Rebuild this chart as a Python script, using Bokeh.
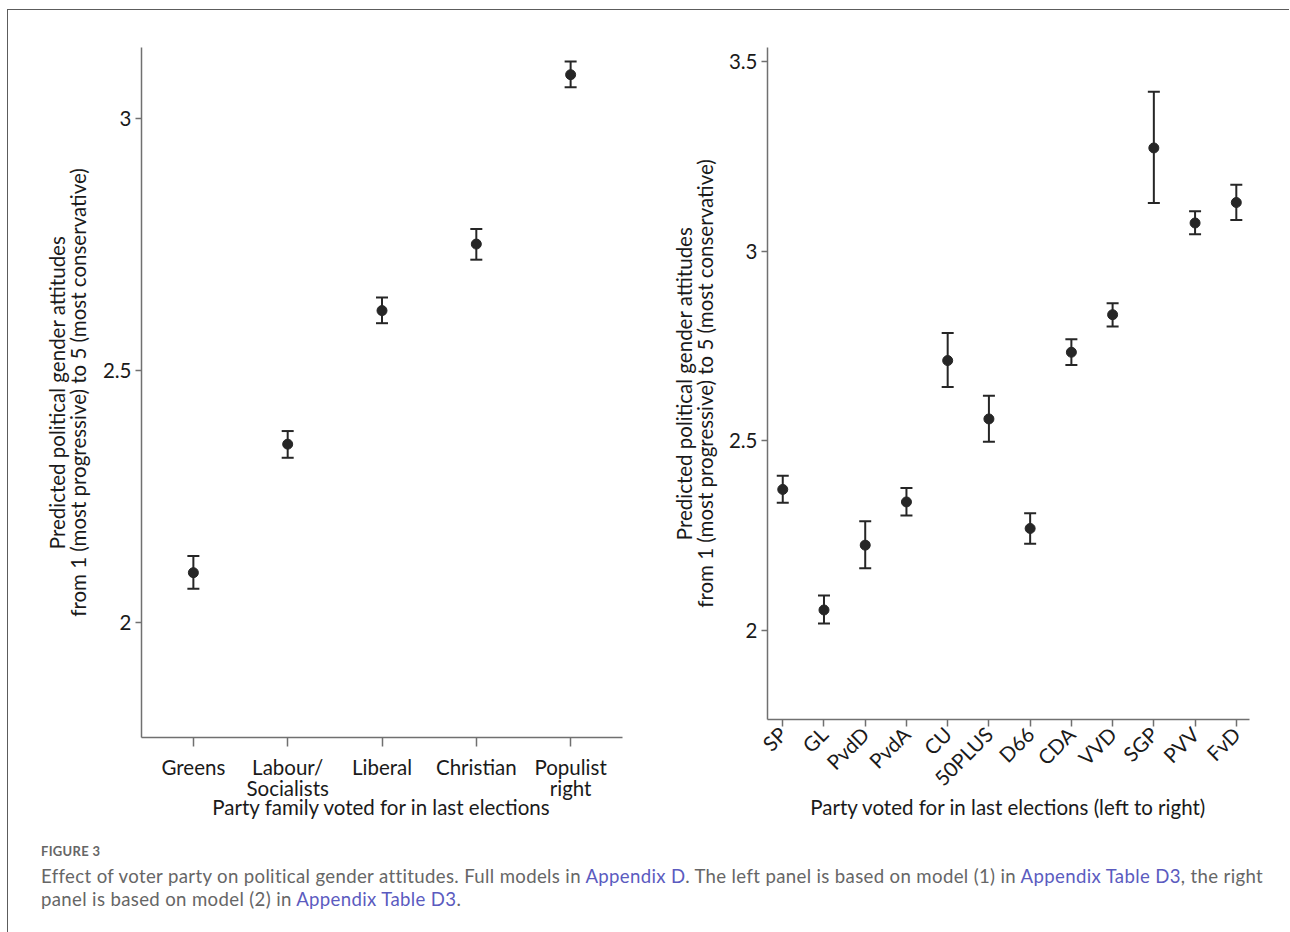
import math

from bokeh.embed import file_html
from bokeh.layouts import column, row
from bokeh.models import ColumnDataSource, Div, FixedTicker, Range1d, TeeHead, Whisker
from bokeh.plotting import figure
from bokeh.resources import INLINE

# --- left panel: party families -------------------------------------------
families = ["Greens", "Labour/\nSocialists", "Liberal", "Christian", "Populist\nright"]
family_est = [2.099, 2.354, 2.619, 2.751, 3.087]
family_lo = [2.067, 2.327, 2.594, 2.720, 3.062]
family_hi = [2.132, 2.380, 2.645, 2.781, 3.113]
family_yticks = [2, 2.5, 3]

# --- right panel: individual parties (left to right) ------------------------
parties = ["SP", "GL", "PvdD", "PvdA", "CU", "50PLUS", "D66", "CDA", "VVD", "SGP", "PVV", "FvD"]
party_est = [2.372, 2.054, 2.225, 2.339, 2.712, 2.558, 2.269, 2.734, 2.833, 3.273, 3.075, 3.129]
party_lo = [2.337, 2.018, 2.164, 2.303, 2.642, 2.498, 2.229, 2.700, 2.802, 3.128, 3.045, 3.083]
party_hi = [2.408, 2.092, 2.288, 2.376, 2.785, 2.619, 2.309, 2.768, 2.863, 3.421, 3.106, 3.176]
party_yticks = [2, 2.5, 3, 3.5]

Y_TITLE = "Predicted political gender attitudes\nfrom 1 (most progressive) to 5 (most conservative)"

INK = "#262626"
AXIS = "#707070"
FONT = "Lato"
FONT_SIZE = "20.5px"


def tick_text(v):
    return "%g" % v


def panel(labels, est, lo, hi, yticks, frame_w, frame_h, x_pad, y_range, borders,
          x_title, rotate, y_title_standoff):
    n = len(labels)
    pos = list(range(1, n + 1))
    p = figure(
        frame_width=frame_w, frame_height=frame_h,
        x_range=Range1d(1 - x_pad[0], n + x_pad[1]),
        y_range=Range1d(*y_range),
        output_backend="svg", toolbar_location=None,
        min_border_left=borders[0], min_border_right=borders[1],
        min_border_top=borders[2], min_border_bottom=borders[3],
    )
    p.grid.visible = False
    p.outline_line_color = None
    p.background_fill_color = "white"
    p.border_fill_color = "white"

    src = ColumnDataSource(dict(x=pos, est=est, lo=lo, hi=hi))
    p.add_layout(Whisker(
        source=src, base="x", lower="lo", upper="hi", dimension="height",
        line_color=INK, line_width=2,
        upper_head=TeeHead(size=12, line_color=INK, line_width=2),
        lower_head=TeeHead(size=12, line_color=INK, line_width=2),
    ))
    p.scatter("x", "est", source=src, size=10, fill_color=INK, line_color=INK)

    for ax in (p.xaxis, p.yaxis):
        ax.axis_line_color = AXIS
        ax.axis_line_width = 1.5
        ax.major_tick_line_color = AXIS
        ax.major_tick_line_width = 1.5
        ax.minor_tick_line_color = None
        ax.major_tick_in = 0
        ax.major_label_text_font = FONT
        ax.major_label_text_font_size = FONT_SIZE
        ax.major_label_text_color = "#1a1a1a"
        ax.major_label_text_line_height = 0.9
        ax.axis_label_text_font = FONT
        ax.axis_label_text_font_size = FONT_SIZE
        ax.axis_label_text_font_style = "normal"
        ax.axis_label_text_color = "#1a1a1a"
        ax.axis_label_text_line_height = 0.86

    p.xaxis.ticker = FixedTicker(ticks=pos)
    p.xaxis.major_label_overrides = {i: lab for i, lab in zip(pos, labels)}
    p.xaxis.axis_label = x_title
    if rotate:
        p.xaxis.major_tick_out = 7
        p.xaxis.major_label_orientation = math.pi / 4
        p.xaxis.major_label_standoff = 4
        p.xaxis.axis_label_standoff = -7
    else:
        p.xaxis.major_tick_out = 9
        p.xaxis.major_label_standoff = 8
        p.xaxis.axis_label_standoff = -8

    p.yaxis.ticker = FixedTicker(ticks=yticks)
    p.yaxis.major_label_overrides = {t: tick_text(t) for t in yticks}
    p.yaxis.major_tick_out = 6
    p.yaxis.major_label_standoff = 4
    p.yaxis.axis_label = Y_TITLE
    p.yaxis.axis_label_standoff = y_title_standoff
    return p


left = panel(families, family_est, family_lo, family_hi, family_yticks,
             frame_w=481, frame_h=690, x_pad=(0.55, 0.55), y_range=(1.772, 3.141),
             borders=(133, 27, 37, 60), x_title="Party family voted for in last elections",
             rotate=False, y_title_standoff=10)
right = panel(parties, party_est, party_lo, party_hi, party_yticks,
              frame_w=482, frame_h=672, x_pad=(0.37, 0.32), y_range=(1.765, 3.538),
              borders=(118, 40, 37, 60), x_title="Party voted for in last elections (left to right)",
              rotate=True, y_title_standoff=9)

LINK = "#5b5bbf"
line_style = "height:23px;line-height:23px;white-space:nowrap;"
caption_html = (
    '<div style="font-family:Lato,sans-serif;color:#666666;padding-left:28px;margin-top:16px;">'
    '<div style="font-size:13px;font-weight:bold;letter-spacing:0.3px;line-height:16px;height:16px;">FIGURE 3</div>'
    '<div style="font-size:18.6px;letter-spacing:0.35px;margin-top:6px;">'
    f'<div style="{line_style}">'
    'Effect of voter party on political gender attitudes. Full models in '
    f'<span style="color:{LINK}">Appendix D</span>. The left panel is based on model (1) in '
    f'<span style="color:{LINK}">Appendix Table D3</span>, the right</div>'
    f'<div style="{line_style}">panel is based on model (2) in '
    f'<span style="color:{LINK}">Appendix Table D3</span>.</div>'
    '</div></div>'
)
caption = Div(text=caption_html, width=1270, height=110)

page = column(
    row(left, right),
    caption,
    styles={
        "margin-left": "7px",
        "margin-top": "9px",
        "border-top": "1.5px solid #5c5c5c",
        "border-left": "1.5px solid #5c5c5c",
    },
)

open("out.html", "w").write(file_html(page, INLINE))
